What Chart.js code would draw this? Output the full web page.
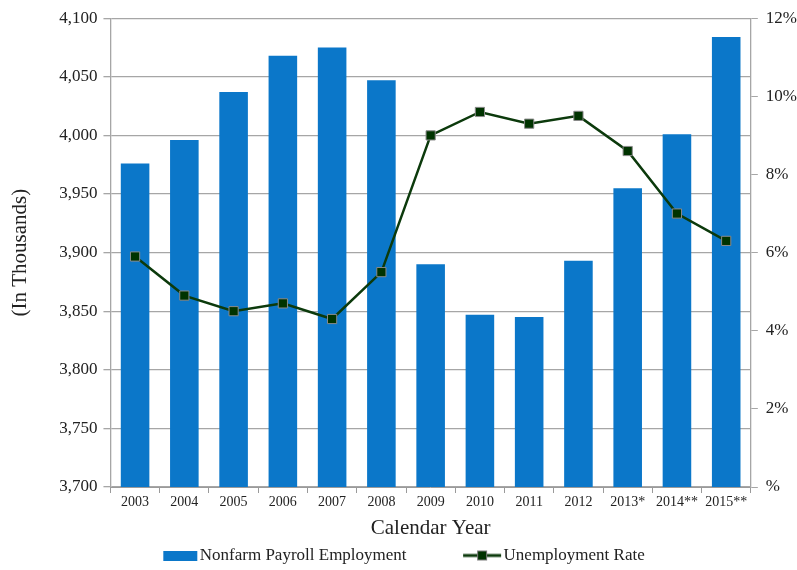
<!DOCTYPE html>
<html>
<head>
<meta charset="utf-8">
<script src="https://cdn.jsdelivr.net/npm/chart.js@4"></script>
<style>
  body { margin: 0; background: #fff; }
  #wrap { width: 797px; height: 570px; }
</style>
</head>
<body>
<div id="wrap"><canvas id="payroll-chart"></canvas></div>
<script>
var years = ["2003", "2004", "2005", "2006", "2007", "2008", "2009", "2010", "2011", "2012", "2013*", "2014**", "2015**"];
var payroll = [3976, 3996, 4037, 4068, 4075, 4047, 3890, 3847, 3845, 3893, 3955, 4001, 4084];
var unemployment = [5.9, 4.9, 4.5, 4.7, 4.3, 5.5, 9.0, 9.6, 9.3, 9.5, 8.6, 7.0, 6.3];

var barBlue = '#0b77c9';
var lineGreen = '#0c3a0c';
var serif = 'Liberation Serif';

// legend icons: canvas is wider than the 40px legend box so the icon sits close to its text
function barIcon() {
  var c = document.createElement('canvas');
  c.width = 54; c.height = 10;
  var x = c.getContext('2d');
  x.fillStyle = barBlue;
  x.fillRect(19, 0, 34, 10);
  return c;
}
function lineIcon() {
  var c = document.createElement('canvas');
  c.width = 54; c.height = 12;
  var x = c.getContext('2d');
  x.strokeStyle = lineGreen;
  x.lineWidth = 3;
  x.beginPath(); x.moveTo(15, 6); x.lineTo(53, 6); x.stroke();
  x.fillStyle = '#7a7a7a';
  x.fillRect(29, 1, 10, 10);
  x.fillStyle = '#003300';
  x.fillRect(30, 2, 8, 8);
  return c;
}

new Chart(document.getElementById("payroll-chart"), {
  data: {
    labels: years,
    datasets: [{
      type: 'line',
      label: 'Unemployment Rate',
      data: unemployment,
      yAxisID: 'yRate',
      borderColor: lineGreen,
      borderWidth: 2.5,
      pointStyle: 'rect',
      pointRadius: 6.5,
      pointBackgroundColor: '#003300',
      pointBorderColor: '#8a8a8a',
      pointBorderWidth: 1,
      tension: 0,
      order: 0
    }, {
      type: 'bar',
      label: 'Nonfarm Payroll Employment',
      data: payroll,
      yAxisID: 'y',
      backgroundColor: barBlue,
      categoryPercentage: 1,
      barPercentage: 0.58,
      order: 1
    }]
  },
  options: {
    responsive: true,
    maintainAspectRatio: false,
    animation: false,
    layout: { padding: { top: 10, right: -8, left: 8, bottom: -4 } },
    plugins: {
      legend: {
        position: 'bottom',
        labels: {
          usePointStyle: true,
          pointStyleWidth: 40,
          boxHeight: 14,
          padding: 6,
          color: '#222',
          font: { family: serif, size: 17 },
          generateLabels: function (chart) {
            return [
              { text: 'Nonfarm Payroll Employment          ', pointStyle: barIcon(), datasetIndex: 1, fontColor: '#222', lineWidth: 0, strokeStyle: 'transparent' },
              { text: 'Unemployment Rate    ', pointStyle: lineIcon(), datasetIndex: 0, fontColor: '#222', lineWidth: 0, strokeStyle: 'transparent' }
            ];
          }
        }
      },
      tooltip: { enabled: false }
    },
    scales: {
      x: {
        grid: { drawOnChartArea: false, color: '#9a9a9a', tickLength: 6, offset: true },
        border: { color: '#9a9a9a' },
        ticks: { color: '#222', font: { family: serif, size: 14 }, maxRotation: 0, autoSkip: false, padding: 1 },
        title: { display: true, text: 'Calendar Year', color: '#222', font: { family: serif, size: 21 }, padding: { top: 4, bottom: 0 } }
      },
      y: {
        position: 'left',
        min: 3700, max: 4100,
        ticks: {
          stepSize: 50, color: '#222', padding: 6,
          font: { family: serif, size: 17 },
          callback: function (v) { return v.toLocaleString('en-US'); }
        },
        grid: { color: '#a6a6a6', tickLength: 7, lineWidth: 1.3 },
        border: { color: '#a6a6a6', width: 1.3 },
        title: { display: true, text: '(In Thousands)', color: '#222', font: { family: serif, size: 21 }, padding: { top: 0, bottom: 20 } }
      },
      yRate: {
        position: 'right',
        min: 0, max: 12,
        ticks: {
          stepSize: 2, color: '#222', padding: 8,
          font: { family: serif, size: 17 },
          callback: function (v) { return v === 0 ? '%' : v + '%'; }
        },
        grid: { drawOnChartArea: false, color: '#a6a6a6', tickLength: 7 },
        border: { color: '#a6a6a6', width: 1.3 }
      }
    }
  }
});
</script>
</body>
</html>
